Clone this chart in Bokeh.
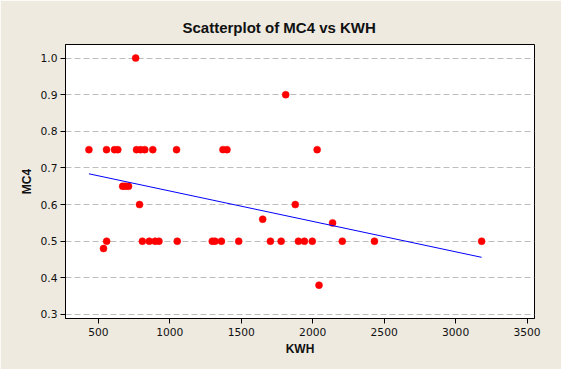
from bokeh.plotting import figure
from bokeh.models import FixedTicker, Range1d, PrintfTickFormatter
from bokeh.embed import file_html
from bokeh.resources import INLINE

# --- data ---
kwh = [434, 557, 613, 636, 767, 795, 825, 881, 1047, 1372, 1400, 2031,
       670, 690, 711,
       761,
       788, 1878,
       1811,
       1650,
       2139,
       2044,
       536,
       558, 808, 856, 897, 924, 1052, 1297, 1316, 1361, 1482, 1704, 1779,
       1900, 1942, 1997, 2207, 2432, 3182]
mc4 = [0.75, 0.75, 0.75, 0.75, 0.75, 0.75, 0.75, 0.75, 0.75, 0.75, 0.75, 0.75,
       0.65, 0.65, 0.65,
       1.0,
       0.6, 0.6,
       0.9,
       0.56,
       0.55,
       0.38,
       0.48,
       0.5, 0.5, 0.5, 0.5, 0.5, 0.5, 0.5, 0.5, 0.5, 0.5, 0.5, 0.5,
       0.5, 0.5, 0.5, 0.5, 0.5, 0.5]

fit_kwh = [434, 3182]
fit_mc4 = [0.684, 0.456]

x_ticks = [500, 1000, 1500, 2000, 2500, 3000, 3500]
y_ticks = [0.3, 0.4, 0.5, 0.6, 0.7, 0.8, 0.9, 1.0]

BEIGE = "#EEEAE0"
TEXT = "#111111"

p = figure(width=561, height=369, output_backend="svg", toolbar_location=None,
           x_range=Range1d(270, 3552), y_range=Range1d(0.289, 1.037),
           min_border_left=65, min_border_right=27,
           min_border_top=44, min_border_bottom=51)

p.background_fill_color = "white"
p.border_fill_color = BEIGE
p.outline_line_color = "black"
p.outline_line_width = 1

p.title.text = "Scatterplot of MC4 vs KWH"
p.title.align = "left"
p.title.offset = 117
p.title.text_font = "Liberation Sans"
p.title.text_font_style = "bold"
p.title.text_font_size = "15px"
p.title.text_color = TEXT
p.title.standoff = 17

for ax in (p.xaxis, p.yaxis):
    ax.major_label_text_font = "DejaVu Sans"
    ax.major_label_text_font_size = "10.7px"
    ax.major_label_text_color = TEXT
    ax.axis_label_text_font = "Liberation Sans"
    ax.axis_label_text_font_style = "bold"
    ax.axis_label_text_font_size = "12px"
    ax.axis_label_text_color = TEXT
    ax.axis_line_color = "black"
    ax.major_tick_line_color = "black"
    ax.major_tick_out = 5
    ax.major_tick_in = 0
    ax.minor_tick_out = 0
    ax.minor_tick_in = 0

p.xaxis.ticker = FixedTicker(ticks=x_ticks)
p.yaxis.ticker = FixedTicker(ticks=y_ticks)
p.yaxis.formatter = PrintfTickFormatter(format="%.1f")
p.xaxis.axis_label = "KWH"
p.yaxis.axis_label = "MC4"
p.xaxis.major_label_standoff = 4
p.yaxis.major_label_standoff = 3
p.xaxis.axis_label_standoff = 3
p.yaxis.axis_label_standoff = 4

p.xgrid.visible = False
p.ygrid.ticker = FixedTicker(ticks=y_ticks)
p.ygrid.grid_line_color = "#BDBDBD"
p.ygrid.grid_line_dash = "6 3"
p.ygrid.grid_line_width = 1

p.scatter(kwh, mc4, size=7, fill_color="#FF0000", line_color="#FF0000",
          line_width=0.5)
p.line(fit_kwh, fit_mc4, line_color="#0000FF", line_width=1)

open("out.html", "w").write(file_html(p, INLINE))
